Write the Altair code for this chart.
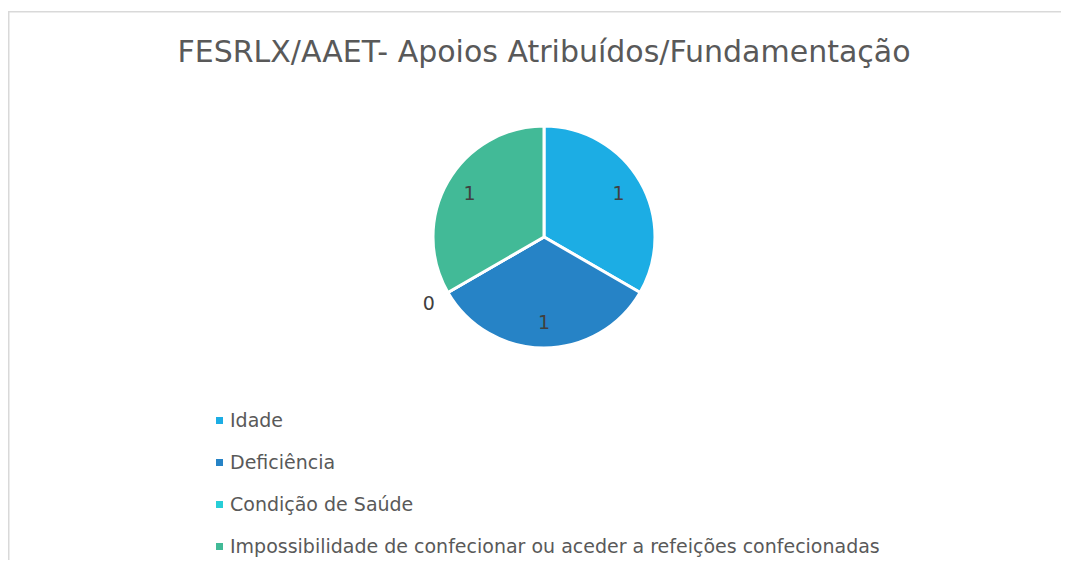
import altair as alt
import pandas as pd

TITLE = "FESRLX/AAET- Apoios Atribuídos/Fundamentação"
categories = [
    "Idade",
    "Deficiência",
    "Condição de Saúde",
    "Impossibilidade de confecionar ou aceder a refeições confecionadas",
]
values = [1, 1, 0, 1]
order_idx = [0, 1, 2, 3]
colors = ["#1CADE4", "#2683C6", "#27CED7", "#42BA97"]

df = pd.DataFrame({"cat": categories, "value": values, "idx": order_idx})
tdf = pd.DataFrame({"t": [TITLE]})
FONT = "DejaVu Sans"
W, H = 1053, 549
CX, CY, R = 536, 226, 111
BORDER = "#d9d9d9"

base = alt.Chart(df).encode(
    theta=alt.Theta("value:Q", stack=True),
    order=alt.Order("idx:Q"),
    x=alt.value(CX),
    y=alt.value(CY),
)

pie = base.mark_arc(outerRadius=R, stroke="white", strokeWidth=3).encode(
    color=alt.Color(
        "cat:N",
        sort=categories,
        scale=alt.Scale(domain=categories, range=colors),
        legend=alt.Legend(
            title=None,
            orient="none",
            legendX=202,
            legendY=400,
            direction="vertical",
            symbolType="square",
            symbolSize=49,
            symbolStrokeWidth=0,
            labelFont=FONT,
            labelFontSize=19,
            labelColor="#595959",
            labelLimit=1000,
            rowPadding=22,
            labelOffset=1,
        ),
    )
)

inner_lbl = base.transform_calculate(
    lbl="datum.value > 0 ? format(datum.value, 'd') : ''"
).mark_text(radius=86, font=FONT, fontSize=19, color="#404040").encode(
    text="lbl:N", detail="cat:N"
)

outer_lbl = base.transform_calculate(
    lbl="datum.value == 0 ? format(datum.value, 'd') : ''"
).mark_text(radius=133, font=FONT, fontSize=19, color="#404040").encode(
    text="lbl:N", detail="cat:N"
)

title = alt.Chart(tdf).mark_text(
    font=FONT, fontSize=30, color="#595959", baseline="alphabetic", align="center"
).encode(text="t:N", x=alt.value(CX), y=alt.value(51))

top_border = alt.Chart(tdf).mark_rule(color=BORDER, strokeWidth=1.5).encode(
    x=alt.value(0), x2=alt.value(W), y=alt.value(0.75)
)
left_border = alt.Chart(tdf).mark_rule(color=BORDER, strokeWidth=1.5).encode(
    x=alt.value(0.75), y=alt.value(0), y2=alt.value(H)
)

chart = (
    alt.layer(top_border, left_border, pie, inner_lbl, outer_lbl, title)
    .properties(
        width=W,
        height=H,
        autosize=alt.AutoSizeParams(type="none"),
        padding={"left": 0, "top": 3, "right": 0, "bottom": 0},
    )
    .configure_view(strokeWidth=0)
)

chart.save("out.html", embed_options={"renderer": "svg", "actions": False})
